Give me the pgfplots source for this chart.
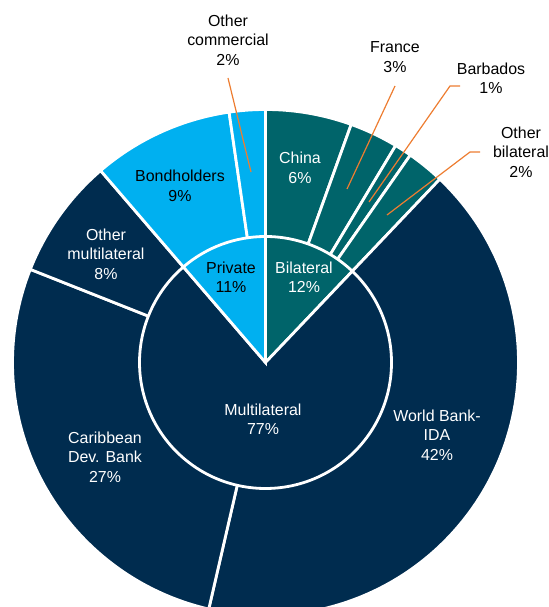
\documentclass[border=0pt]{standalone}
\usepackage{pgfplots}
\pgfplotsset{compat=1.18}
\usepackage{pgfplotstable}
\usepackage{fontspec}
\setmainfont{Liberation Sans}

\definecolor{navy}{HTML}{002C4F}
\definecolor{tealc}{HTML}{00646A}
\definecolor{lblue}{HTML}{00B0F0}
\definecolor{lead}{HTML}{ED7D31}

% outer ring: creditors (share of debt, %)
\pgfplotstableread{
creditor share colour
China 5.5 tealc
France 3.1 tealc
Barbados 1.1 tealc
OtherBilateral 2.4 tealc
WorldBankIDA 41.5 navy
CaribbeanDevBank 27.4 navy
OtherMultilateral 7.7 navy
Bondholders 9.0 lblue
OtherCommercial 2.3 lblue
}\outerring

% inner ring: creditor groups
\pgfplotstableread{
group share colour
Bilateral 12.1 tealc
Multilateral 76.6 navy
Private 11.3 lblue
}\innerring

\def\cx{265.5}
\def\cy{-362.5}

% draws one ring of sectors, clockwise from 12 o'clock
\newcommand\ring[2]{%
  \pgfplotstablegetrowsof{#1}%
  \pgfmathtruncatemacro\lastrow{\pgfplotsretval-1}%
  \def\cum{0}%
  \pgfplotsforeachungrouped \i in {0,...,\lastrow}{%
    \pgfplotstablegetelem{\i}{share}\of{#1}\let\shv\pgfplotsretval
    \pgfplotstablegetelem{\i}{colour}\of{#1}\let\colv\pgfplotsretval
    \pgfmathsetmacro\aS{90-3.6*\cum}%
    \pgfmathsetmacro\aE{90-3.6*(\cum+\shv)}%
    \pgfmathsetmacro\cum{\cum+\shv}%
    \edef\temp{\noexpand\filldraw[fill=\colv, draw=white, line width=2.8bp]
      (axis cs:\cx,\cy) -- ++(\aS:#2) arc[start angle=\aS, end angle=\aE, radius=#2] -- cycle;}%
    \temp
  }%
}

\tikzset{
  lab/.style={align=center, font=\fontsize{16}{19.5}\selectfont, text=white, inner sep=0pt},
  labk/.style={lab, text=black},
  leader/.style={draw=lead, line width=1.2bp},
}

\begin{document}
\begin{tikzpicture}
\begin{axis}[
  name=ax,
  hide axis,
  scale only axis,
  width=549bp, height=607bp,
  xmin=0, xmax=549, ymin=-607, ymax=0,
  clip=false,
]
\ring{\outerring}{253bp}
\ring{\innerring}{126bp}

% inner labels
\node[lab]  at (axis cs:304,-277) {Bilateral\\12\%};
\node[labk] at (axis cs:231,-277) {Private\\11\%};
\node[lab]  at (axis cs:263,-419) {Multilateral\\77\%};

% outer labels
\node[lab]  at (axis cs:300,-168) {China\\6\%};
\node[lab]  at (axis cs:437,-435) {World Bank-\\IDA\\42\%};
\node[lab]  at (axis cs:105,-457) {Caribbean\\Dev. Bank\\27\%};
\node[lab]  at (axis cs:106,-254) {Other\\multilateral\\8\%};
\node[labk] at (axis cs:180,-186) {Bondholders\\9\%};

% outside labels with leader lines
\node[labk] at (axis cs:228,-40) {Other\\commercial\\2\%};
\node[labk] at (axis cs:395,-57) {France\\3\%};
\node[labk] at (axis cs:491,-78) {Barbados\\1\%};
\node[labk] at (axis cs:521,-152) {Other\\bilateral\\2\%};
\draw[leader] (axis cs:228,-78) -- (axis cs:251,-172);
\draw[leader] (axis cs:395,-86) -- (axis cs:347,-189);
\draw[leader] (axis cs:460,-86) -- (axis cs:450,-86) -- (axis cs:369,-202);
\draw[leader] (axis cs:480,-152) -- (axis cs:470,-152) -- (axis cs:387,-215);
\end{axis}
\pgfresetboundingbox
\path (ax.south west) rectangle (ax.north east);
\end{tikzpicture}
\end{document}
